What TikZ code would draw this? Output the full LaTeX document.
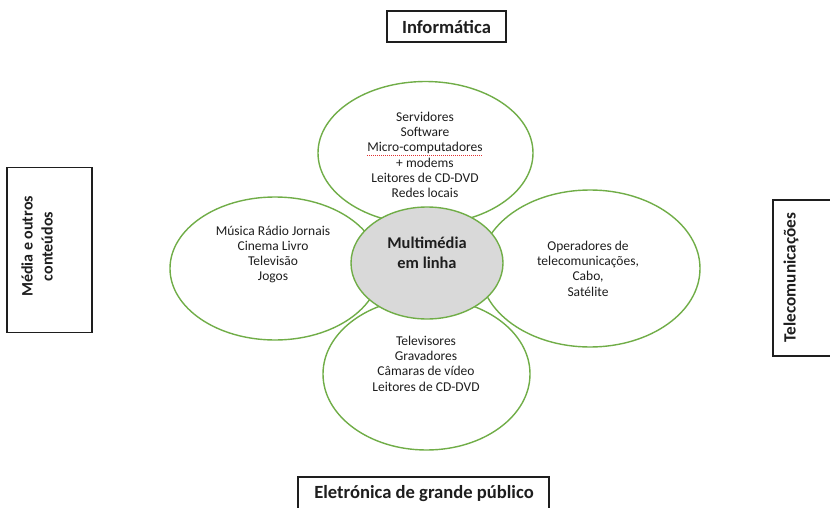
\documentclass[tikz,border=0pt]{standalone}
\usepackage{fontspec}
\setmainfont{Carlito}
\usetikzlibrary{shapes.geometric}
\definecolor{petalgreen}{RGB}{112,173,71}
\definecolor{hubgrey}{RGB}{217,217,217}
\definecolor{ink}{RGB}{30,30,30}
\definecolor{spellred}{RGB}{225,50,50}
\begin{document}
\begin{tikzpicture}[x=1pt,y=-1pt,
  petal/.style={ellipse, draw=petalgreen, line width=1.4pt, fill=white, inner sep=0pt},
  hub/.style={ellipse, draw=petalgreen, line width=1.4pt, fill=hubgrey, inner sep=0pt},
  petaltext/.style={text=ink, align=center, inner sep=0pt, font=\fontsize{13.5}{15.3}\selectfont},
  hubtext/.style={text=ink, align=center, inner sep=0pt, font=\bfseries\fontsize{16.4}{20}\selectfont},
  framebox/.style={draw=ink, line width=1.3pt, fill=white, inner sep=0pt},
  frametext/.style={text=ink, align=center, inner sep=0pt, font=\bfseries\fontsize{18.6}{22}\selectfont}
]
\useasboundingbox (0,0) rectangle (830,508);
\clip (0,0) rectangle (830,508);

% frames
\node[framebox, minimum width=119pt, minimum height=31pt] (binf) at (446.5,26.5) {};
\node[frametext] (tinf) at (446.5,27.5) {Informática};

\node[framebox, minimum width=85pt, minimum height=165pt] (bmed) at (49.5,250) {};
\node[frametext, rotate=90, font=\bfseries\fontsize{16}{20}\selectfont] (tmed) at (37,246.5) {Média e outros\\conteúdos};

\node[framebox, minimum width=72pt, minimum height=156pt] (btel) at (809,278) {};
\node[frametext, rotate=90, font=\bfseries\fontsize{17.2}{20}\selectfont] (ttel) at (791,277.5) {Telecomunicações};

\node[framebox, minimum width=251pt, minimum height=40pt] (bele) at (423.5,497) {};
\node[frametext] (tele) at (424,494) {Eletrónica de grande público};

% petals
\node[petal, minimum width=215pt, minimum height=143pt] (ptop) at (425.5,153) {};
\node[petal, minimum width=210pt, minimum height=143pt] (pleft) at (275,268.5) {};
\node[petal, minimum width=220pt, minimum height=157pt] (pright) at (590,268.5) {};
\node[petal, minimum width=207pt, minimum height=152pt] (pbot) at (426.5,374) {};

% hub
\node[hub, minimum width=152pt, minimum height=112pt] (hub) at (427,263) {};
\node[hubtext] (thub) at (427,253) {Multimédia\\em linha};

% petal texts
\node[petaltext] (ttop) at (425,155) {Servidores\\Software\\Micro-computadores\\+ modems\\Leitores de CD-DVD\\Redes locais};
\node[petaltext] (tleft) at (273,254.5) {Música Rádio Jornais\\Cinema Livro\\Televisão\\Jogos};
\node[petaltext] (tright) at (588,268.5) {Operadores de\\telecomunicações,\\Cabo,\\Satélite};
\node[petaltext] (tbot) at (426,363.5) {Televisores\\Gravadores\\Câmaras de vídeo\\Leitores de CD-DVD};

% spell-check underline
\draw[spellred, line width=0.6pt, dash pattern=on 1pt off 1pt] (367,155) -- (483,155);
\end{tikzpicture}
\end{document}
